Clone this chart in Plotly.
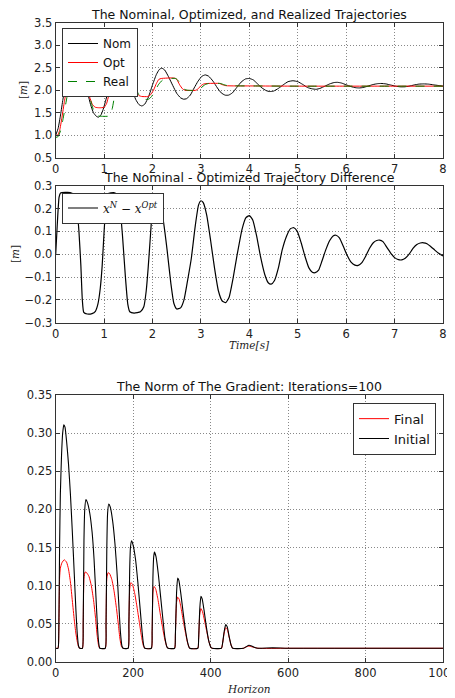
import plotly.graph_objects as go

# --- top: nominal / optimized / realized trajectories ---
t_nom = [0.0, 0.05, 0.1, 0.15, 0.2, 0.25, 0.3, 0.35, 0.42, 0.48, 0.55, 0.62, 0.67, 0.72, 0.78, 0.84,
         0.88, 0.93, 0.98, 1.04, 1.1, 1.18, 1.28, 1.35, 1.42, 1.5, 1.58, 1.65, 1.72, 1.78, 1.84, 1.92,
         2.0, 2.08, 2.14, 2.19, 2.25, 2.33, 2.42, 2.5, 2.58, 2.64, 2.7, 2.78, 2.86, 2.94, 3.02, 3.09,
         3.16, 3.25, 3.34, 3.42, 3.5, 3.57, 3.65, 3.74, 3.83, 3.92, 4.0, 4.08, 4.17, 4.26, 4.35, 4.42,
         4.5, 4.6, 4.7, 4.8, 4.9, 5.0, 5.1, 5.2, 5.3, 5.38, 5.46, 5.56, 5.66, 5.75, 5.82, 5.9, 6.0,
         6.1, 6.2, 6.27, 6.35, 6.45, 6.55, 6.65, 6.72, 6.82, 6.92, 7.02, 7.12, 7.2, 7.3, 7.4, 7.5,
         7.6, 7.7, 7.8, 7.9, 8.0]
x_nom = [1.0, 1.15, 1.45, 1.8, 2.1, 2.4, 2.62, 2.76, 2.82, 2.72, 2.45, 2.1, 1.9, 1.68, 1.5, 1.42,
         1.4, 1.44, 1.57, 1.8, 2.05, 2.35, 2.55, 2.58, 2.5, 2.28, 2.02, 1.8, 1.68, 1.65, 1.69, 1.86,
         2.12, 2.35, 2.46, 2.49, 2.45, 2.3, 2.1, 1.93, 1.83, 1.8, 1.81, 1.89, 2.05, 2.2, 2.31, 2.34,
         2.31, 2.2, 2.05, 1.94, 1.89, 1.89, 1.94, 2.06, 2.18, 2.25, 2.26, 2.23, 2.14, 2.05, 1.99, 1.97,
         1.98, 2.04, 2.12, 2.19, 2.21, 2.19, 2.13, 2.06, 2.03, 2.02, 2.04, 2.09, 2.14, 2.17, 2.175, 2.16, 2.12,
         2.08, 2.055, 2.05, 2.06, 2.09, 2.125, 2.145, 2.15, 2.14, 2.115, 2.09, 2.075, 2.075, 2.09, 2.115, 2.135,
         2.14, 2.135, 2.12, 2.105, 2.09]

t_opt = [0.0, 0.04, 0.08, 0.13, 0.18, 0.23, 0.28, 0.33, 0.4, 0.5, 0.58, 0.65, 0.7, 0.76, 0.82, 0.9,
         1.0, 1.05, 1.1, 1.15, 1.2, 1.3, 1.45, 1.55, 1.62, 1.67, 1.72, 1.78, 1.9, 1.96, 2.02, 2.08,
         2.13, 2.18, 2.45, 2.5, 2.56, 2.62, 2.67, 2.9, 2.95, 3.0, 3.06, 3.15, 3.38, 3.45, 3.52, 4.0,
         5.0, 6.0, 7.0, 8.0]
x_opt = [1.0, 1.0, 1.1, 1.4, 1.75, 2.05, 2.3, 2.45, 2.5, 2.45, 2.3, 2.05, 1.85, 1.68, 1.62, 1.61,
         1.62, 1.7, 1.9, 2.05, 2.2, 2.3, 2.3, 2.2, 2.05, 1.95, 1.88, 1.86, 1.86, 1.9, 2.0, 2.15,
         2.24, 2.26, 2.27, 2.24, 2.12, 2.03, 2.0, 2.0, 2.04, 2.1, 2.14, 2.15, 2.15, 2.12, 2.1, 2.095,
         2.09, 2.09, 2.09, 2.09]

t_real = [0.0, 0.05, 0.1, 0.15, 0.2, 0.25, 0.3, 0.36, 0.45, 0.55, 0.62, 0.68, 0.74, 0.8, 0.87, 0.95,
          1.12, 1.17, 1.22, 1.26, 1.35, 1.5, 1.6, 1.67, 1.74, 1.8, 1.92, 1.98, 2.05, 2.12, 2.2, 2.26,
          2.48, 2.54, 2.6, 2.66, 2.72, 2.93, 3.0, 3.08, 3.16, 3.4, 3.48, 3.56, 4.0, 5.0, 6.0, 7.0, 8.0]
x_real = [0.95, 0.97, 1.1, 1.35, 1.65, 1.95, 2.2, 2.4, 2.45, 2.35, 2.15, 1.95, 1.7, 1.5, 1.43, 1.42,
          1.43, 1.6, 1.9, 2.1, 2.3, 2.3, 2.2, 2.0, 1.86, 1.8, 1.8, 1.86, 1.98, 2.12, 2.22, 2.25,
          2.26, 2.2, 2.09, 2.02, 2.0, 2.0, 2.05, 2.12, 2.15, 2.15, 2.12, 2.1, 2.095, 2.09, 2.09, 2.09, 2.09]

# --- middle: nominal - optimized difference ---
t_diff = [0.0, 0.03, 0.07, 0.1, 0.3, 0.38, 0.44, 0.48, 0.52, 0.55, 0.58, 0.65, 0.75, 0.82, 0.87,
          0.92, 0.96, 1.0, 1.04, 1.08, 1.2, 1.28, 1.33, 1.38, 1.44, 1.49, 1.53, 1.62, 1.75, 1.82,
          1.87, 1.91, 1.95, 2.0, 2.05, 2.1, 2.15, 2.22, 2.3, 2.38, 2.44, 2.5, 2.58, 2.65, 2.72, 2.8,
          2.88, 2.95, 3.0, 3.05, 3.12, 3.2, 3.28, 3.36, 3.44, 3.51, 3.58, 3.66, 3.75, 3.85, 3.93,
          4.0, 4.07, 4.15, 4.23, 4.32, 4.39, 4.45, 4.52, 4.6, 4.68, 4.77, 4.85, 4.92, 4.99, 5.07,
          5.15, 5.23, 5.3, 5.36, 5.43, 5.5, 5.58, 5.66, 5.73, 5.79, 5.86, 5.94, 6.02, 6.1, 6.18,
          6.25, 6.32, 6.4, 6.48, 6.56, 6.63, 6.69, 6.76, 6.84, 6.92, 7.0, 7.08, 7.15, 7.22, 7.3,
          7.38, 7.46, 7.53, 7.6, 7.67, 7.75, 7.83, 7.91, 8.0]
d_diff = [0.0, 0.12, 0.25, 0.268, 0.27, 0.26, 0.2, 0.1, -0.05, -0.2, -0.255, -0.262, -0.26, -0.25,
          -0.22, -0.15, -0.05, 0.1, 0.22, 0.265, 0.27, 0.26, 0.2, 0.08, -0.1, -0.22, -0.252, -0.258,
          -0.252, -0.23, -0.16, -0.06, 0.06, 0.2, 0.24, 0.245, 0.22, 0.15, 0.02, -0.13, -0.215, -0.24,
          -0.235, -0.2, -0.12, -0.02, 0.12, 0.215, 0.234, 0.225, 0.17, 0.06, -0.06, -0.16, -0.205,
          -0.212, -0.19, -0.11, 0.0, 0.11, 0.16, 0.169, 0.15, 0.08, -0.01, -0.09, -0.125, -0.131,
          -0.115, -0.06, 0.02, 0.08, 0.112, 0.116, 0.1, 0.05, -0.01, -0.06, -0.079, -0.081, -0.07,
          -0.03, 0.02, 0.06, 0.08, 0.083, 0.072, 0.035, -0.005, -0.035, -0.048, -0.049, -0.038,
          -0.01, 0.025, 0.05, 0.06, 0.062, 0.055, 0.03, 0.005, -0.015, -0.024, -0.025, -0.018, 0.0,
          0.025, 0.042, 0.049, 0.05, 0.046, 0.033, 0.018, 0.004, -0.008]

# --- bottom: gradient norm over the horizon ---
h_init = [0, 6, 8, 10, 12, 15, 18, 21, 24, 28, 33, 38, 43, 48, 52, 56, 59, 62,
          69, 71, 73, 75, 78, 82, 88, 94, 99, 104, 108, 111, 114,
          128, 130, 132, 134, 137, 141, 147, 153, 158, 163, 167, 171, 174,
          187, 189, 191, 193, 196, 200, 206, 212, 218, 223, 227, 230,
          247, 249, 251, 253, 255, 259, 265, 271, 277, 282, 287, 290,
          307, 309, 312, 315, 318, 323, 329, 335, 341, 346,
          367, 369, 372, 375, 378, 383, 389, 395, 401, 404,
          428, 431, 435, 439, 443, 448, 453, 457,
          485, 492, 499, 506, 514, 522, 560, 600, 1000]
g_init = [0.018, 0.018, 0.04, 0.15, 0.22, 0.27, 0.3, 0.311, 0.308, 0.29, 0.26, 0.22, 0.17, 0.115, 0.07, 0.035, 0.021, 0.018,
          0.018, 0.05, 0.16, 0.2, 0.213, 0.209, 0.195, 0.17, 0.135, 0.085, 0.045, 0.025, 0.018,
          0.018, 0.05, 0.15, 0.195, 0.207, 0.203, 0.185, 0.155, 0.12, 0.075, 0.04, 0.021, 0.018,
          0.018, 0.05, 0.12, 0.15, 0.159, 0.153, 0.135, 0.105, 0.07, 0.04, 0.022, 0.018,
          0.018, 0.04, 0.11, 0.138, 0.144, 0.138, 0.115, 0.085, 0.055, 0.032, 0.02, 0.018,
          0.018, 0.035, 0.09, 0.11, 0.107, 0.09, 0.065, 0.042, 0.025, 0.018,
          0.018, 0.03, 0.07, 0.086, 0.083, 0.068, 0.046, 0.028, 0.019, 0.018,
          0.018, 0.025, 0.04, 0.049, 0.046, 0.033, 0.022, 0.018,
          0.018, 0.02, 0.022, 0.021, 0.019, 0.018, 0.0185, 0.018, 0.018]

h_final = [0, 6, 8, 10, 12, 16, 22, 28, 33, 38, 43, 48, 52, 56, 59, 62,
           69, 71, 73, 76, 80, 86, 92, 98, 103, 107, 111, 114,
           128, 130, 132, 135, 139, 145, 151, 157, 162, 166, 170, 174,
           187, 189, 191, 194, 198, 204, 210, 216, 221, 226, 230,
           247, 249, 251, 254, 258, 264, 270, 276, 282, 287, 290,
           307, 309, 312, 315, 319, 324, 330, 336, 341, 346,
           367, 369, 372, 375, 379, 384, 390, 396, 401, 404,
           428, 431, 435, 439, 443, 448, 453, 457,
           485, 492, 499, 506, 514, 522, 600, 1000]
g_final = [0.018, 0.018, 0.04, 0.11, 0.123, 0.13, 0.134, 0.131, 0.122, 0.105, 0.08, 0.055, 0.038, 0.026, 0.02, 0.018,
           0.018, 0.05, 0.11, 0.118, 0.117, 0.112, 0.1, 0.08, 0.057, 0.035, 0.021, 0.018,
           0.018, 0.05, 0.11, 0.117, 0.116, 0.108, 0.092, 0.07, 0.048, 0.03, 0.02, 0.018,
           0.018, 0.05, 0.095, 0.104, 0.102, 0.09, 0.072, 0.052, 0.035, 0.022, 0.018,
           0.018, 0.04, 0.09, 0.099, 0.096, 0.082, 0.063, 0.045, 0.029, 0.02, 0.018,
           0.018, 0.035, 0.078, 0.085, 0.082, 0.07, 0.052, 0.036, 0.024, 0.018,
           0.018, 0.03, 0.063, 0.07, 0.066, 0.055, 0.04, 0.026, 0.019, 0.018,
           0.018, 0.025, 0.038, 0.045, 0.043, 0.032, 0.022, 0.018,
           0.018, 0.02, 0.021, 0.02, 0.019, 0.018, 0.018, 0.018]

W, H = 455, 698
OFF = 8  # the page body margin shifts the figure by 8px
FONT = "DejaVu Sans"
SERIF = "DejaVu Serif"


def px_x(p):
    return (p - OFF) / W


def px_y(p):
    return 1 - (p - OFF) / H


fig = go.Figure()

fig.add_trace(go.Scatter(x=t_nom, y=x_nom, mode="lines", name="Nom", line=dict(color="black", width=1, shape="spline", smoothing=0.5), legend="legend", xaxis="x", yaxis="y"))
fig.add_trace(go.Scatter(x=t_opt, y=x_opt, mode="lines", name="Opt", line=dict(color="#ff0000", width=1, shape="spline", smoothing=0.5), legend="legend", xaxis="x", yaxis="y"))
fig.add_trace(go.Scatter(x=t_real, y=x_real, mode="lines", name="Real", line=dict(color="#008000", width=1, dash="dash", shape="spline", smoothing=0.5), legend="legend", xaxis="x", yaxis="y"))

fig.add_trace(go.Scatter(x=t_diff, y=d_diff, mode="lines", name="<i>x</i><sup><i>N</i></sup> − <i>x</i><sup><i>Opt</i></sup>",
                         line=dict(color="black", width=1.2, shape="spline", smoothing=0.5), legend="legend2", xaxis="x2", yaxis="y2"))

fig.add_trace(go.Scatter(x=h_final, y=g_final, mode="lines", name="Final", line=dict(color="#ff0000", width=1, shape="spline", smoothing=0.5), legend="legend3", xaxis="x3", yaxis="y3"))
fig.add_trace(go.Scatter(x=h_init, y=g_init, mode="lines", name="Initial", line=dict(color="black", width=1.1, shape="spline", smoothing=0.5), legend="legend3", xaxis="x3", yaxis="y3"))

xdom = [px_x(55.7), px_x(443)]
axis_style = dict(showline=True, linecolor="#333", linewidth=1, mirror="ticks", ticks="inside", ticklen=4,
                  tickcolor="#333", showgrid=True, gridcolor="#888", griddash="1px,2px", gridwidth=1,
                  zeroline=False, automargin=False, tickfont=dict(family=FONT, size=11.5, color="#222"))

fig.update_layout(
    width=W, height=H, margin=dict(l=0, r=0, t=0, b=0, autoexpand=False),
    paper_bgcolor="white", plot_bgcolor="white",
    font=dict(family=FONT, color="#222"),
    xaxis=dict(domain=xdom, anchor="y", range=[0, 8], dtick=1, **axis_style),
    yaxis=dict(domain=[px_y(157.7), px_y(22.7)], anchor="x", range=[0.5, 3.5], dtick=0.5, tickformat=".1f", **axis_style),
    xaxis2=dict(domain=xdom, anchor="y2", range=[0, 8], dtick=1, **axis_style),
    yaxis2=dict(domain=[px_y(322.7), px_y(185.7)], anchor="x2", range=[-0.3, 0.3], dtick=0.1, tickformat=".1f", **axis_style),
    xaxis3=dict(domain=xdom, anchor="y3", range=[0, 1000], dtick=200, **axis_style),
    yaxis3=dict(domain=[px_y(662), px_y(395)], anchor="x3", range=[0, 0.35], dtick=0.05, tickformat=".2f", **axis_style),
    legend=dict(x=px_x(62), y=px_y(28), xanchor="left", yanchor="top", bgcolor="white", bordercolor="#333",
                borderwidth=1, font=dict(family=FONT, size=12, color="#111")),
    legend2=dict(x=px_x(62), y=px_y(192.5), xanchor="left", yanchor="top", bgcolor="white", bordercolor="#333",
                 borderwidth=1, font=dict(family=SERIF, size=12, color="#111")),
    legend3=dict(x=px_x(436), y=px_y(402.7), xanchor="right", yanchor="top", bgcolor="white", bordercolor="#333",
                 borderwidth=1, font=dict(family=FONT, size=13, color="#111")),
    showlegend=True,
)

titles = [
    ("The Nominal, Optimized, and Realized Trajectories", 15),
    ("The Nominal - Optimized Trajectory Difference", 178),
    ("The Norm of The Gradient: Iterations=100", 386),
]
for text, yy in titles:
    fig.add_annotation(text=text, x=px_x(249.3), y=px_y(yy), xref="paper", yref="paper", showarrow=False,
                       xanchor="center", yanchor="middle", font=dict(family=FONT, size=12.5, color="#111"))

labels = [
    ("[<i>m</i>]", 23, 90, -90),
    ("[<i>m</i>]", 15, 254, -90),
    ("<i>Time[s]</i>", 249.3, 345, 0),
    ("<i>Horizon</i>", 249.3, 689, 0),
]
for text, xx, yy, ang in labels:
    fig.add_annotation(text=text, x=px_x(xx), y=px_y(yy), xref="paper", yref="paper", showarrow=False,
                       xanchor="center", yanchor="middle", textangle=ang,
                       font=dict(family=SERIF, size=10.5, color="#222"))

fig.write_html("out.html")
